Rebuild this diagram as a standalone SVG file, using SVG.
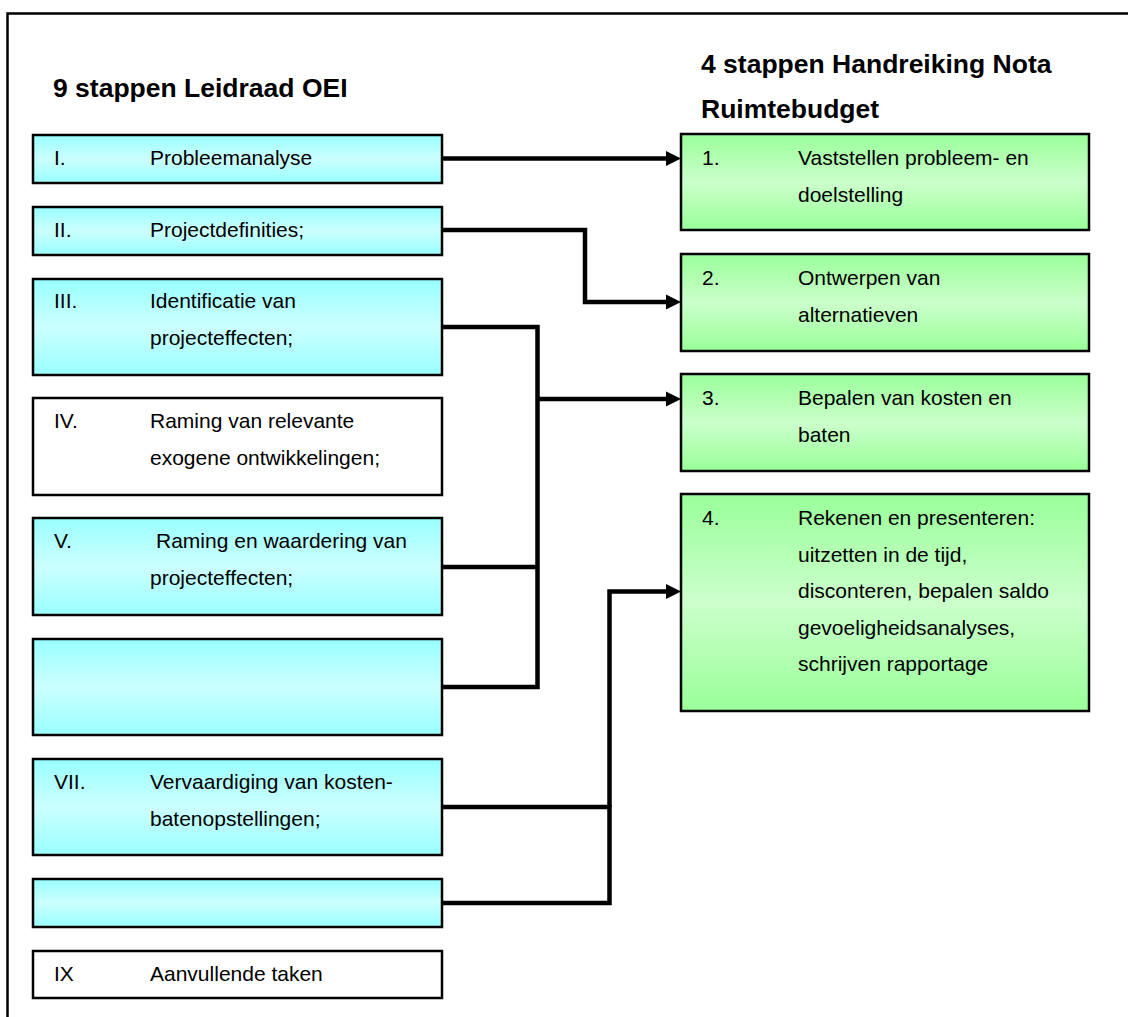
<svg xmlns="http://www.w3.org/2000/svg" width="1128" height="1017" viewBox="0 0 1128 1017">
  <defs>
    <linearGradient id="gCyan" x1="0" y1="0" x2="0" y2="1">
      <stop offset="0" stop-color="#99FFFF"/>
      <stop offset="0.5" stop-color="#CCFFFF"/>
      <stop offset="1" stop-color="#99FFFF"/>
    </linearGradient>
    <linearGradient id="gGreen" x1="0" y1="0" x2="0" y2="1">
      <stop offset="0" stop-color="#99FF99"/>
      <stop offset="0.5" stop-color="#CCFFCC"/>
      <stop offset="1" stop-color="#99FF99"/>
    </linearGradient>
    <marker id="arrow" markerUnits="userSpaceOnUse" markerWidth="15" markerHeight="16" refX="0" refY="8" orient="auto">
      <path d="M0,0.5 L15,8 L0,15.5 Z" fill="#000"/>
    </marker>
    <style>
      .box { stroke: #000; stroke-width: 2.5; }
      .cyan { fill: url(#gCyan); }
      .green { fill: url(#gGreen); }
      .white { fill: #fff; }
      .t { font-family: "Liberation Sans", Arial, sans-serif; font-size: 21px; fill: #000; }
      .h { font-family: "Liberation Sans", Arial, sans-serif; font-size: 26.5px; font-weight: bold; fill: #000; }
      .link { fill: none; stroke: #000; stroke-width: 4.5; stroke-linejoin: miter; }
    </style>
  </defs>

  <rect x="0" y="0" width="1128" height="1017" fill="#fff"/>
  <!-- outer frame -->
  <path d="M7.5,1017 V13.5 H1128" fill="none" stroke="#000" stroke-width="2.5"/>

  <!-- headings -->
  <text class="h" x="53" y="97">9 stappen Leidraad OEI</text>
  <text class="h" x="701" y="73">4 stappen Handreiking Nota</text>
  <text class="h" x="701" y="118">Ruimtebudget</text>

  <!-- left column: OEI steps -->
  <g id="step-I">
    <rect class="box cyan" x="33" y="135" width="409" height="48"/>
    <text class="t" x="54" y="165">I.</text>
    <text class="t" x="150" y="165">Probleemanalyse</text>
  </g>
  <g id="step-II">
    <rect class="box cyan" x="33" y="207" width="409" height="48"/>
    <text class="t" x="54" y="237">II.</text>
    <text class="t" x="150" y="237">Projectdefinities;</text>
  </g>
  <g id="step-III">
    <rect class="box cyan" x="33" y="279" width="409" height="96"/>
    <text class="t" x="54" y="308">III.</text>
    <text class="t" x="150" y="308">Identificatie van</text>
    <text class="t" x="150" y="345">projecteffecten;</text>
  </g>
  <g id="step-IV">
    <rect class="box white" x="33" y="398" width="409" height="97"/>
    <text class="t" x="54" y="428">IV.</text>
    <text class="t" x="150" y="428">Raming van relevante</text>
    <text class="t" x="150" y="465">exogene ontwikkelingen;</text>
  </g>
  <g id="step-V">
    <rect class="box cyan" x="33" y="518" width="409" height="97"/>
    <text class="t" x="54" y="548">V.</text>
    <text class="t" x="156" y="548">Raming en waardering van</text>
    <text class="t" x="150" y="585">projecteffecten;</text>
  </g>
  <g id="step-VI">
    <rect class="box cyan" x="33" y="639" width="409" height="96"/>
  </g>
  <g id="step-VII">
    <rect class="box cyan" x="33" y="759" width="409" height="96"/>
    <text class="t" x="54" y="789">VII.</text>
    <text class="t" x="150" y="789">Vervaardiging van kosten-</text>
    <text class="t" x="150" y="826">batenopstellingen;</text>
  </g>
  <g id="step-VIII">
    <rect class="box cyan" x="33" y="879" width="409" height="48"/>
  </g>
  <g id="step-IX">
    <rect class="box white" x="33" y="951" width="409" height="47"/>
    <text class="t" x="54" y="981">IX</text>
    <text class="t" x="150" y="981">Aanvullende taken</text>
  </g>

  <!-- right column: Nota Ruimtebudget steps -->
  <g id="step-1">
    <rect class="box green" x="681" y="134" width="408" height="96"/>
    <text class="t" x="702" y="165">1.</text>
    <text class="t" x="798" y="165">Vaststellen probleem- en</text>
    <text class="t" x="798" y="202">doelstelling</text>
  </g>
  <g id="step-2">
    <rect class="box green" x="681" y="254" width="408" height="97"/>
    <text class="t" x="702" y="285">2.</text>
    <text class="t" x="798" y="285">Ontwerpen van</text>
    <text class="t" x="798" y="322">alternatieven</text>
  </g>
  <g id="step-3">
    <rect class="box green" x="681" y="374" width="408" height="97"/>
    <text class="t" x="702" y="405">3.</text>
    <text class="t" x="798" y="405">Bepalen van kosten en</text>
    <text class="t" x="798" y="442">baten</text>
  </g>
  <g id="step-4">
    <rect class="box green" x="681" y="494" width="408" height="217"/>
    <text class="t" x="702" y="525">4.</text>
    <text class="t" x="798" y="525">Rekenen en presenteren:</text>
    <text class="t" x="798" y="562">uitzetten in de tijd,</text>
    <text class="t" x="798" y="598">disconteren, bepalen saldo</text>
    <text class="t" x="798" y="635">gevoeligheidsanalyses,</text>
    <text class="t" x="798" y="671">schrijven rapportage</text>
  </g>

  <!-- connectors -->
  <g id="connectors">
    <path class="link" d="M443,158.5 H666" marker-end="url(#arrow)"/>
    <path class="link" d="M443,230 H585 V302 H666" marker-end="url(#arrow)"/>
    <path class="link" d="M443,327 H537.5 V687 H443"/>
    <path class="link" d="M443,567 H537.5"/>
    <path class="link" d="M537.5,399 H666" marker-end="url(#arrow)"/>
    <path class="link" d="M443,807 H609.5 V903 H443"/>
    <path class="link" d="M609.5,807 V591.5 H666" marker-end="url(#arrow)"/>
  </g>
</svg>
